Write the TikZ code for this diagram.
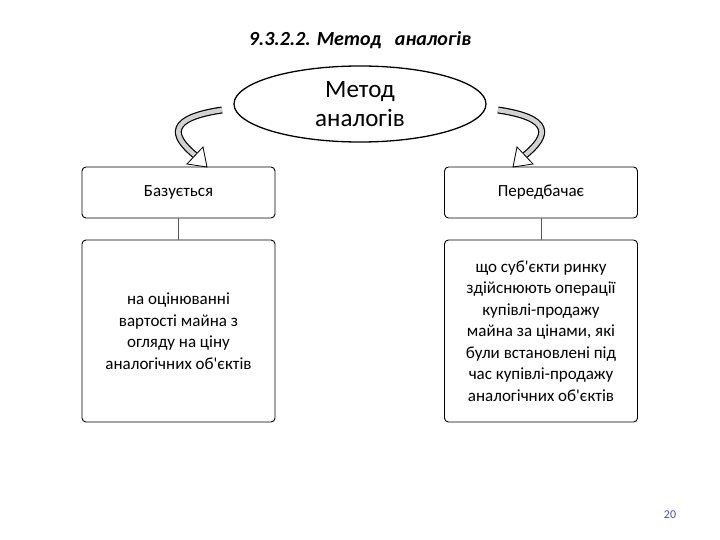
\documentclass[tikz,border=0pt]{standalone}
\usepackage{fontspec}
\setmainfont{Carlito}
\usetikzlibrary{shapes.geometric,arrows.meta}
\newcommand{\ap}{\textquotesingle}
\begin{document}
\begin{tikzpicture}[x=1pt,y=-1pt,
 box/.style={draw,line width=0.9pt,rounded corners=4pt,minimum width=193pt,align=center,font=\fontsize{17}{21.5}\selectfont},
 ln/.style={draw,line width=0.5pt,gray!70!black},
 barc/.style={line width=7pt,black},
 barc2/.style={line width=4.6pt,gray!35}]
\useasboundingbox (0,0) rectangle (720,540);
\node[font=\bfseries\itshape\fontsize{20}{24}\selectfont] (t) at (360,40) {9.3.2.2. Метод \ \ аналогів};
\coordinate (la) at (222,110);
\coordinate (ra) at (498,110);
\draw[barc] (la) .. controls (168,118) and (170,135) .. (196,156);
\draw[barc2] (la) .. controls (168,118) and (170,135) .. (196,156);
\draw[line width=0.8pt,fill=white] (203,147) -- (207,167) -- (187,164) -- cycle;
\draw[barc] (ra) .. controls (552,118) and (550,135) .. (524,156);
\draw[barc2] (ra) .. controls (552,118) and (550,135) .. (524,156);
\draw[line width=0.8pt,fill=white] (517,147) -- (513,167) -- (533,164) -- cycle;
\node[draw,ellipse,line width=1.3pt,fill=white,minimum width=252pt,minimum height=76pt,align=center,font=\fontsize{25}{29}\selectfont] (e) at (360,104) {Метод\\аналогів};
\node[box,minimum height=51pt] (b1) at (178.5,192.5) {Базується};
\node[box,minimum height=51pt] (b2) at (541,192.5) {Передбачає};
\node[box,minimum height=182pt] (c1) at (178.5,331) {на оцінюванні\\вартості майна з\\огляду на ціну\\аналогічних об\ap єктів};
\node[box,minimum height=182pt] (c2) at (541,331) {що суб\ap єкти ринку\\здійснюють операції\\купівлі-продажу\\майна за цінами, які\\були встановлені під\\час купівлі-продажу\\аналогічних об\ap єктів};
\draw[ln] (b1.south) -- (c1.north);
\draw[ln] (b2.south) -- (c2.north);
\node[font=\fontsize{12}{14}\selectfont,text=blue!40!gray] (n) at (670,515) {20};
\end{tikzpicture}
\end{document}
